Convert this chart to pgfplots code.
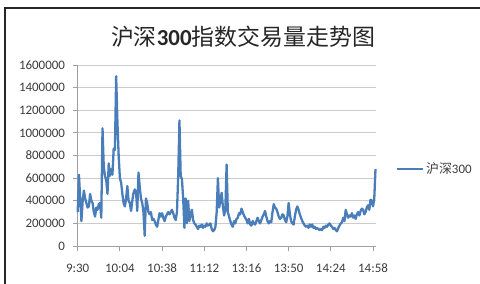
\documentclass[border=0pt]{standalone}
\usepackage{pgfplots}
\pgfplotsset{compat=1.18}
\usepackage{pgfplotstable}
\usepackage{fontspec}
\setmainfont{Carlito}
\newfontfamily\cjk{Noto Sans CJK SC}
\definecolor{serblue}{RGB}{74,126,187}
\definecolor{lab}{RGB}{60,60,60}

\pgfplotstableread{
i v
0 300000
1 630000
2 420000
3 220000
4 400000
5 490000
6 420000
7 380000
8 340000
9 350000
10 460000
11 400000
12 380000
13 300000
14 260000
15 340000
16 320000
17 370000
18 380000
19 250000
20 1040000
21 700000
22 620000
23 580000
24 460000
25 730000
26 620000
27 680000
28 630000
29 860000
30 850000
31 1500000
32 1100000
33 800000
34 600000
35 560000
36 460000
37 380000
38 350000
39 420000
40 530000
41 400000
42 380000
43 310000
44 400000
45 470000
46 500000
47 480000
48 310000
49 650000
50 520000
51 420000
52 380000
53 300000
54 90000
55 420000
56 380000
57 300000
58 280000
59 300000
60 230000
61 240000
62 220000
63 190000
64 170000
65 230000
66 290000
67 260000
68 290000
69 250000
70 220000
71 260000
72 280000
73 300000
74 280000
75 300000
76 320000
77 290000
78 250000
79 230000
80 300000
81 620000
82 1110000
83 620000
84 590000
85 420000
86 160000
87 420000
88 200000
89 400000
90 220000
91 280000
92 320000
93 230000
94 200000
95 190000
96 170000
97 150000
98 180000
99 170000
100 190000
101 160000
102 180000
103 170000
104 200000
105 180000
106 190000
107 200000
108 150000
109 130000
110 140000
111 170000
112 300000
113 600000
114 340000
115 400000
116 470000
117 350000
118 270000
119 320000
120 720000
121 300000
122 260000
123 220000
124 190000
125 170000
126 220000
127 200000
128 240000
129 250000
130 290000
131 280000
132 330000
133 300000
134 270000
135 250000
136 230000
137 200000
138 240000
139 190000
140 180000
141 220000
142 200000
143 190000
144 220000
145 250000
146 220000
147 200000
148 230000
149 260000
150 280000
151 310000
152 260000
153 220000
154 200000
155 220000
156 210000
157 300000
158 370000
159 340000
160 330000
161 300000
162 260000
163 240000
164 250000
165 280000
166 270000
167 230000
168 210000
169 260000
170 380000
171 280000
172 220000
173 200000
174 190000
175 260000
176 320000
177 350000
178 320000
179 280000
180 250000
181 220000
182 200000
183 180000
184 170000
185 180000
186 160000
187 190000
188 170000
189 190000
190 160000
191 170000
192 150000
193 160000
194 150000
195 140000
196 150000
197 140000
198 170000
199 160000
200 180000
201 170000
202 190000
203 200000
204 180000
205 170000
206 150000
207 160000
208 140000
209 130000
210 160000
211 180000
212 200000
213 210000
214 250000
215 220000
216 320000
217 280000
218 250000
219 270000
220 260000
221 290000
222 250000
223 270000
224 240000
225 280000
226 300000
227 270000
228 310000
229 330000
230 320000
231 280000
232 300000
233 340000
234 360000
235 320000
236 410000
237 400000
238 350000
239 420000
240 680000
}\hsdata

\begin{document}
\begin{tikzpicture}
\useasboundingbox (0,0) rectangle (480bp,284bp);
\draw[line width=2bp, black!85] (5bp,-2bp) -- (5bp,276bp) -- (482bp,276bp);
\node[anchor=center, font=\fontsize{23}{26}\selectfont, text=black!85] at (243bp,247bp)
  {{\cjk 沪深}\textbf{300}{\cjk 指数交易量走势图}};
\begin{axis}[
  at={(77.7bp,38bp)}, anchor=south west,
  scale only axis, width=297.8bp, height=181bp,
  xmin=0, xmax=240, ymin=0, ymax=1600000,
  axis x line*=bottom, axis y line*=left,
  axis line style={-, draw=gray!75, line width=0.8bp},
  ymajorgrids, grid style={draw=gray!40, line width=0.8bp},
  xtick={0,34,68,102,136,170,204,238},
  xticklabels={9:30,10:04,10:38,11:12,13:16,13:50,14:24,14:58},
  ytick={0,200000,400000,600000,800000,1000000,1200000,1400000,1600000},
  yticklabels={0,200000,400000,600000,800000,1000000,1200000,1400000,1600000},
  scaled y ticks=false,
  /pgf/number format/assume math mode=true,
  tick align=outside, major tick length=4.5bp,
  tick style={draw=gray!75, line width=0.8bp},
  ticklabel style={font=\fontsize{13}{15}\selectfont, text=lab},
  yticklabel style={anchor=east, inner sep=0pt, xshift=-8bp},
  xticklabel style={anchor=north, inner sep=0pt, yshift=-13bp},
  legend style={at={(1.069,0.425)}, anchor=west, draw=none, fill=none,
    inner sep=0pt, font=\fontsize{13}{15}\selectfont, text=lab,
    nodes={inner sep=1.5bp}},
  legend image code/.code={\draw[#1] (0bp,0bp) -- (26bp,0bp);},
  clip=false,
]
\addplot[serblue, line width=2.3bp, line join=round, mark=none] table[x=i, y=v] {\hsdata};
\addlegendentry{{\cjk 沪深}300}
\end{axis}
\end{tikzpicture}
\end{document}
